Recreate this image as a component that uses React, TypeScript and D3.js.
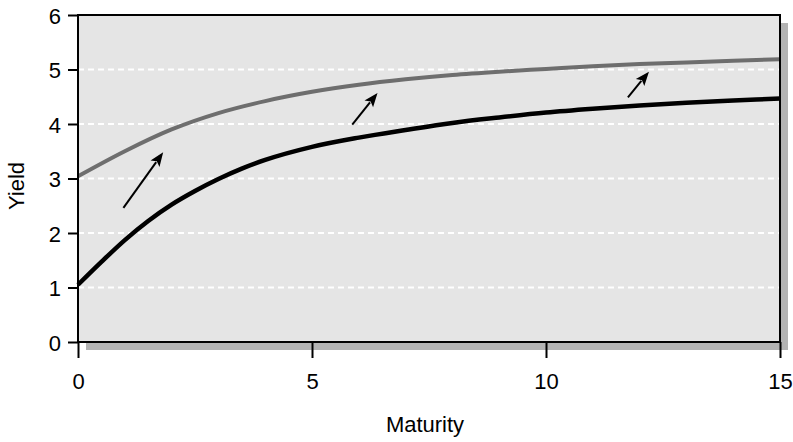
import React, { useEffect, useRef } from 'react';
import * as d3 from 'd3';

// Yield curve data
const lowerMaturities = [0, 0.5, 1, 1.5, 2, 2.5, 3, 3.5, 4, 5, 6, 7, 8, 9, 10, 11, 12, 13, 14, 15];
const lowerCurve = [1.05, 1.47, 1.87, 2.22, 2.52, 2.77, 2.99, 3.18, 3.34, 3.58, 3.75, 3.89, 4.02, 4.12, 4.21, 4.28, 4.34, 4.39, 4.43, 4.47];
const upperMaturities = [0, 1, 2, 3, 4, 5, 6, 7, 8, 9, 10, 11, 12, 13, 14, 15];
const upperCurve = [3.04, 3.5, 3.9, 4.2, 4.42, 4.59, 4.72, 4.82, 4.9, 4.96, 5.01, 5.06, 5.1, 5.13, 5.16, 5.19];

// Arrows: [maturity, yield] from tail to tip
const arrowTails: [number, number][] = [[0.97, 2.46], [5.86, 3.99], [11.75, 4.49]];
const arrowTips: [number, number][] = [[1.82, 3.48], [6.4, 4.57], [12.2, 4.96]];

const xTicks = [0, 5, 10, 15];
const yTicks = [0, 1, 2, 3, 4, 5, 6];
const gridValues = [1, 2, 3, 4, 5];

const FONT = '"Liberation Sans", Arial, sans-serif';

export default function App() {
  const svgRef = useRef<SVGSVGElement>(null);

  useEffect(() => {
    if (!svgRef.current) return;
    d3.select(svgRef.current).selectAll('*').remove();

    const W = 793;
    const H = 442;
    const margin = { top: 15, right: 13, bottom: 100, left: 78 };
    const width = W - margin.left - margin.right;
    const height = H - margin.top - margin.bottom;

    const svg = d3.select(svgRef.current)
      .attr('width', W)
      .attr('height', H);

    const g = svg.append('g')
      .attr('transform', `translate(${margin.left},${margin.top})`);

    const x = d3.scaleLinear().domain([0, 15]).range([0, width]);
    const y = d3.scaleLinear().domain([0, 6]).range([height, 0]);

    // drop shadow
    g.append('rect')
      .attr('x', 8).attr('y', 8)
      .attr('width', width).attr('height', height)
      .attr('fill', '#b3b3b3');

    // panel
    g.append('rect')
      .attr('width', width).attr('height', height)
      .attr('fill', '#e5e5e5');

    // dashed gridlines
    g.selectAll('.grid')
      .data(gridValues)
      .enter().append('line')
      .attr('class', 'grid')
      .attr('x1', 0).attr('x2', width)
      .attr('y1', d => y(d)).attr('y2', d => y(d))
      .attr('stroke', '#ffffff')
      .attr('stroke-width', 2)
      .attr('stroke-dasharray', '6,4');

    const lineFor = (mats: number[]) => d3.line<number>()
      .x((_, i) => x(mats[i]))
      .y(d => y(d))
      .curve(d3.curveMonotoneX);

    g.append('path')
      .datum(upperCurve)
      .attr('fill', 'none')
      .attr('stroke', '#6e6e6e')
      .attr('stroke-width', 4)
      .attr('d', lineFor(upperMaturities));

    g.append('path')
      .datum(lowerCurve)
      .attr('fill', 'none')
      .attr('stroke', '#000000')
      .attr('stroke-width', 4.5)
      .attr('d', lineFor(lowerMaturities));

    // arrows
    arrowTails.forEach((tail, i) => {
      const tip = arrowTips[i];
      const x0 = x(tail[0]), y0 = y(tail[1]);
      const x1 = x(tip[0]), y1 = y(tip[1]);
      const ang = Math.atan2(y1 - y0, x1 - x0);
      const headLen = 14;
      const headHalf = 5.5;
      const bx = x1 - headLen * Math.cos(ang);
      const by = y1 - headLen * Math.sin(ang);
      g.append('line')
        .attr('x1', x0).attr('y1', y0)
        .attr('x2', bx + 2 * Math.cos(ang)).attr('y2', by + 2 * Math.sin(ang))
        .attr('stroke', '#000')
        .attr('stroke-width', 2);
      const pts = [
        [x1, y1],
        [bx - headHalf * Math.sin(ang), by + headHalf * Math.cos(ang)],
        [bx + 3 * Math.cos(ang), by + 3 * Math.sin(ang)],
        [bx + headHalf * Math.sin(ang), by - headHalf * Math.cos(ang)],
      ];
      g.append('polygon')
        .attr('points', pts.map(p => p.join(',')).join(' '))
        .attr('fill', '#000');
    });

    // frame
    g.append('rect')
      .attr('width', width).attr('height', height)
      .attr('fill', 'none')
      .attr('stroke', '#000')
      .attr('stroke-width', 2);

    // axes
    g.append('g')
      .call(d3.axisLeft(y).tickValues(yTicks).tickSize(10).tickPadding(7).tickFormat(d3.format('d')))
      .call(a => a.select('.domain').remove())
      .call(a => a.selectAll('line').attr('stroke', '#000').attr('stroke-width', 2))
      .call(a => a.selectAll('text')
        .attr('fill', '#000')
        .attr('font-family', FONT)
        .attr('font-size', '22px')
        .attr('dy', '0.38em'));

    g.append('g')
      .attr('transform', `translate(0,${height})`)
      .call(d3.axisBottom(x).tickValues(xTicks).tickSize(16).tickPadding(15).tickFormat(d3.format('d')))
      .call(a => a.select('.domain').remove())
      .call(a => a.selectAll('line').attr('stroke', '#000').attr('stroke-width', 2))
      .call(a => a.selectAll('text')
        .attr('fill', '#000')
        .attr('font-family', FONT)
        .attr('font-size', '22px'));

    // axis titles
    svg.append('text')
      .attr('x', 425)
      .attr('y', 432)
      .attr('text-anchor', 'middle')
      .attr('font-family', FONT)
      .attr('font-size', '22px')
      .attr('fill', '#000')
      .text('Maturity');

    svg.append('text')
      .attr('transform', 'translate(24,186) rotate(-90)')
      .attr('text-anchor', 'middle')
      .attr('font-family', FONT)
      .attr('font-size', '22px')
      .attr('fill', '#000')
      .text('Yield');
  }, []);

  return (
    <div style={{ position: 'absolute', left: 0, top: 0, background: '#fff' }}>
      <svg ref={svgRef}></svg>
    </div>
  );
}
